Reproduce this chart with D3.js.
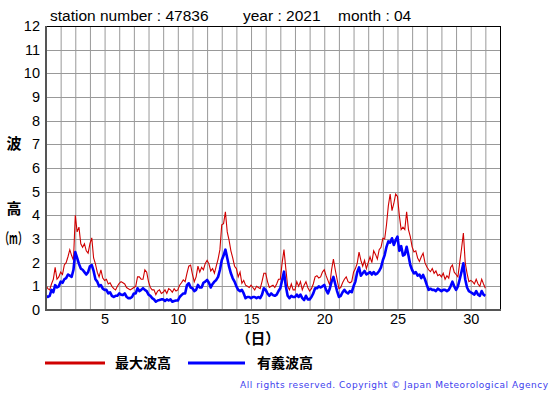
<!DOCTYPE html>
<html>
<head>
<meta charset="utf-8">
<script src="https://cdn.jsdelivr.net/npm/d3@7"></script>
<style>
  body { margin: 0; background: #fff; }
  svg { display: block; }
</style>
</head>
<body>
<div id="chart"></div>
<script>
// 3-hourly readings, 8 per day, from 1 Apr 00h to 31 Apr 00h (end of month)
const maxWave = [
  1.05, 0.9, 0.85, 1.1, 1.3, 1.8, 1.3, 1.4,
  1.6, 1.5, 1.9, 2.0, 2.25, 2.55, 2.3, 2.1,
  4.0, 3.3, 3.5, 2.8, 2.65, 2.8, 2.5, 2.4,
  2.8, 3.05, 2.2, 1.95, 1.6, 1.4, 1.7, 1.35,
  1.25, 1.3, 1.1, 1.15, 1.0, 0.9, 0.85, 1.0,
  1.13, 1.2, 1.15, 1.1, 0.95, 0.9, 0.85, 0.9,
  0.95, 1.0, 1.4, 1.4, 1.3, 1.3, 1.7, 1.6,
  1.2, 0.95, 0.85, 0.85, 0.65, 0.8, 0.85, 0.7,
  0.75, 0.85, 0.7, 0.9, 0.85, 0.75, 0.9, 0.8,
  0.85, 1.05, 1.15, 1.27, 1.2, 1.55, 1.85, 1.9,
  1.5, 1.2, 1.4, 1.85, 1.6, 1.8, 1.7, 1.97,
  2.1, 1.95, 1.65, 1.75, 1.55, 1.85, 2.15, 2.55,
  3.6, 3.65, 4.15, 3.3, 2.95, 2.5, 2.2, 1.85,
  1.75, 1.4, 1.6, 1.13, 1.25, 1.05, 1.0, 0.95,
  1.05, 0.95, 0.85, 1.0, 0.95, 0.9, 1.2, 1.55,
  1.55, 1.2, 0.95, 1.0, 1.05, 0.95, 1.1, 1.3,
  1.3, 2.0, 2.55, 1.75, 1.0, 0.85, 1.1, 0.85,
  0.85, 1.2, 1.0, 1.2, 0.85, 1.05, 1.2, 0.95,
  0.8, 0.9, 1.1, 1.4, 1.45, 1.35, 1.4, 1.6,
  1.7, 1.45, 1.25, 1.05, 1.7, 2.15, 1.7, 1.3,
  0.9, 0.95, 1.15, 1.3, 1.4, 1.2, 1.15, 1.2,
  1.6, 1.75, 1.97, 2.45, 2.1, 1.85, 2.1, 1.75,
  2.0, 2.25, 2.0, 2.5, 2.35, 2.15, 2.55, 2.65,
  3.03, 3.0, 3.6, 4.4, 4.9, 4.2, 4.5, 4.9,
  4.8, 4.0, 3.4, 3.5, 3.4, 4.15, 3.4, 3.1,
  2.67, 2.45, 2.5, 2.2, 2.05, 2.25, 2.4, 2.0,
  1.83, 1.7, 1.62, 1.75, 1.55, 1.65, 1.45, 1.5,
  1.4, 1.55, 1.3, 1.45, 1.35, 1.8, 1.9, 1.6,
  1.5, 1.4, 2.0, 2.6, 3.25, 2.0, 1.55, 1.2,
  1.25, 1.2, 1.1, 1.3, 1.1, 1.0, 1.3, 1.1,
  0.92
];
const sigWave = [
  0.6, 0.55, 0.6, 0.85, 0.75, 1.05, 0.95, 1.0,
  1.2, 1.15, 1.3, 1.35, 1.5, 1.45, 1.4, 1.7,
  2.45, 2.2, 1.95, 1.75, 1.7, 1.6, 1.5, 1.6,
  1.85, 1.9, 1.65, 1.3, 1.2, 1.0, 1.05, 0.9,
  0.85, 0.85, 0.7, 0.75, 0.6, 0.55, 0.6, 0.6,
  0.7, 0.65, 0.63, 0.7, 0.56, 0.5, 0.5, 0.55,
  0.7, 0.7, 0.92, 0.8, 0.85, 0.92, 0.85, 0.8,
  0.65, 0.6, 0.5, 0.45, 0.35, 0.4, 0.42, 0.45,
  0.45, 0.38, 0.45, 0.4, 0.45, 0.35, 0.38, 0.4,
  0.4, 0.55, 0.63, 0.7, 0.7, 1.05, 1.13, 0.95,
  0.92, 0.8, 0.85, 1.06, 0.95, 0.95, 1.15, 1.2,
  1.27, 1.15, 0.95, 1.1, 1.2, 1.27, 1.4, 1.69,
  2.1, 2.3, 2.55, 2.2, 1.83, 1.55, 1.34, 1.2,
  1.0, 0.85, 0.8, 0.85, 0.7, 0.5, 0.55, 0.55,
  0.5, 0.55, 0.55, 0.5, 0.55, 0.5, 0.65, 0.92,
  0.85, 0.7, 0.6, 0.7, 0.63, 0.6, 0.65, 0.8,
  0.92, 1.27, 1.62, 1.0, 0.6, 0.5, 0.6, 0.55,
  0.55, 0.65, 0.55, 0.65, 0.5, 0.42, 0.6, 0.45,
  0.45, 0.55, 0.7, 0.92, 0.92, 1.0, 0.95, 1.0,
  1.06, 0.85, 0.7, 0.9, 1.2, 1.4, 1.1, 0.8,
  0.55, 0.6, 0.75, 0.85, 0.75, 0.7, 0.8, 0.75,
  1.0, 1.2, 1.6, 1.8, 1.45, 1.55, 1.65, 1.5,
  1.55, 1.6, 1.5, 1.6, 1.5, 1.55, 1.65, 1.8,
  2.1, 2.32, 2.67, 2.9, 2.85, 3.03, 2.75, 2.95,
  3.1, 2.5, 2.7, 2.3, 2.35, 2.67, 2.3, 1.9,
  1.69, 1.55, 1.6, 1.45, 1.5, 1.35, 1.48, 1.3,
  1.06, 0.85, 0.9, 0.85, 0.85, 0.8, 0.9, 0.85,
  0.8, 0.85, 0.85, 0.8, 0.85, 1.0, 1.2, 1.0,
  0.85, 1.0, 1.3, 1.62, 1.97, 1.3, 0.95, 0.8,
  0.75, 0.7, 0.65, 0.8, 0.65, 0.6, 0.8, 0.65,
  0.6
];
const perDay = 8;
const xTicks = [5, 10, 15, 20, 25, 30];
const yTicks = [0, 1, 2, 3, 4, 5, 6, 7, 8, 9, 10, 11, 12];
const titleParts = ['station number : 47836', 'year : 2021', 'month : 04'];
const legendNames = ['最大波高', '有義波高'];

const W = 555, H = 395;
const margin = {top: 26, right: 55, bottom: 85, left: 46};
const width = W - margin.left - margin.right,
      height = H - margin.top - margin.bottom;

const svg = d3.select('#chart').append('svg')
  .attr('width', W)
  .attr('height', H);

const x = d3.scaleLinear().domain([1, 32]).range([0, width]);
const y = d3.scaleLinear().domain([0, 12]).range([height, 0]);

const g = svg.append('g')
  .attr('transform', `translate(${margin.left}, ${margin.top})`);

// grid
g.append('g').attr('class', 'grid')
  .selectAll('line.v')
  .data(d3.range(2, 32))
  .enter().append('line')
  .attr('x1', d => x(d) + 0.5).attr('x2', d => x(d) + 0.5)
  .attr('y1', 0).attr('y2', height)
  .style('stroke', '#999').style('stroke-width', 1);
g.select('.grid')
  .selectAll('line.h')
  .data(d3.range(1, 12))
  .enter().append('line')
  .attr('y1', d => Math.round(y(d)) + 0.5).attr('y2', d => Math.round(y(d)) + 0.5)
  .attr('x1', 0).attr('x2', width)
  .style('stroke', '#999').style('stroke-width', 1);

// frame
g.append('rect')
  .attr('x', 0.5).attr('y', 0.5)
  .attr('width', width).attr('height', height)
  .style('fill', 'none').style('stroke', '#000').style('stroke-width', 1);

const line = d3.line()
  .x((d, i) => x(1 + i / perDay))
  .y(d => y(d));

g.append('path').datum(maxWave)
  .attr('d', line)
  .style('fill', 'none').style('stroke', '#d00000').style('stroke-width', 1.1);
g.append('path').datum(sigWave)
  .attr('d', line)
  .style('fill', 'none').style('stroke', '#0000ff').style('stroke-width', 2.6)
  .style('stroke-linejoin', 'round');

// left & bottom axis lines (thick)
g.append('line')
  .attr('x1', 0).attr('x2', 0).attr('y1', 0).attr('y2', height + 1)
  .style('stroke', '#555').style('stroke-width', 2);
g.append('line')
  .attr('x1', 0).attr('x2', width + 1).attr('y1', height).attr('y2', height)
  .style('stroke', '#555').style('stroke-width', 2);

// axes (labels only)
g.append('g')
  .call(d3.axisLeft(y).tickValues(yTicks).tickSize(0).tickPadding(6));
g.append('g')
  .attr('transform', `translate(0, ${height})`)
  .call(d3.axisBottom(x).tickValues(xTicks).tickSize(0).tickPadding(4));
g.selectAll('.domain').remove();
g.selectAll('.tick text')
  .style('font-family', '"Liberation Sans", Arial, sans-serif')
  .style('font-size', '14.5px')
  .style('fill', '#000');

// title
const titleX = [50, 243, 338];
svg.selectAll('text.title')
  .data(titleParts)
  .enter().append('text')
  .attr('class', 'title')
  .attr('x', (d, i) => titleX[i])
  .attr('y', 21)
  .text(d => d)
  .style('font-family', '"Liberation Sans", Arial, sans-serif')
  .style('font-size', '15.5px');

// y label
const cjk = '"Noto Sans CJK JP", "Noto Sans CJK SC", sans-serif';
svg.append('text')
  .attr('class', 'ylab')
  .attr('x', 14).attr('y', 149)
  .attr('text-anchor', 'middle')
  .text('波');
svg.append('text')
  .attr('class', 'ylab')
  .attr('x', 14).attr('y', 214)
  .attr('text-anchor', 'middle')
  .text('高');
svg.append('text')
  .attr('class', 'ylab')
  .attr('x', 0).attr('y', 244)
  .attr('textLength', 27)
  .attr('lengthAdjust', 'spacingAndGlyphs')
  .text('（m）');
svg.selectAll('text.ylab')
  .style('font-family', cjk)
  .style('font-weight', 'bold')
  .style('font-size', '15px');

// x label
svg.append('text')
  .attr('x', 258).attr('y', 344)
  .attr('text-anchor', 'middle')
  .text('（日）')
  .style('font-family', cjk)
  .style('font-weight', 'bold')
  .style('font-size', '14.5px');

// legend
const legend = [
  {name: legendNames[0], color: '#d00000', x1: 45, x2: 105, tx: 115},
  {name: legendNames[1], color: '#0000ff', x1: 188, x2: 245, tx: 257}
];
legend.forEach(l => {
  svg.append('line')
    .attr('x1', l.x1).attr('x2', l.x2)
    .attr('y1', 363).attr('y2', 363)
    .style('stroke', l.color).style('stroke-width', 3);
  svg.append('text')
    .attr('x', l.tx).attr('y', 368)
    .text(l.name)
    .style('font-family', cjk)
    .style('font-weight', 'bold')
    .style('font-size', '14px');
});

// copyright
svg.append('text')
  .attr('x', 240).attr('y', 388)
  .attr('textLength', 308)
  .attr('lengthAdjust', 'spacing')
  .text('All rights reserved. Copyright © Japan Meteorological Agency')
  .style('font-family', '"DejaVu Sans", sans-serif')
  .style('font-size', '9px')
  .style('fill', '#4040ee');
</script>
</body>
</html>
